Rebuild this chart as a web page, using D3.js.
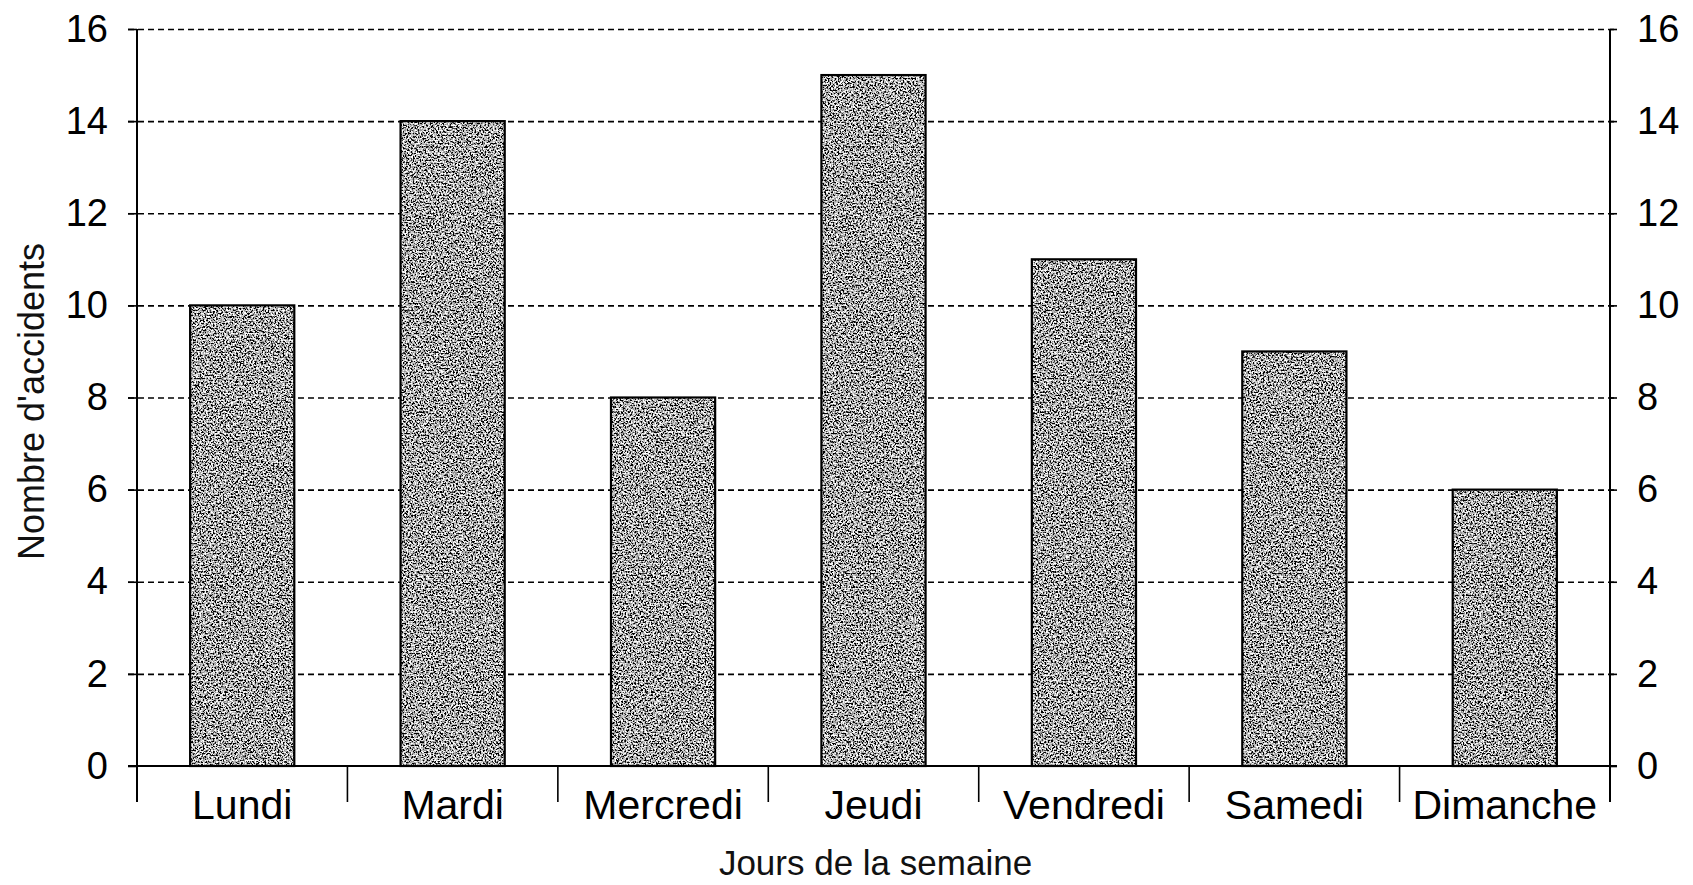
<!DOCTYPE html>
<html>
<head>
<meta charset="utf-8">
<script src="https://cdn.jsdelivr.net/npm/d3@7/dist/d3.min.js"></script>
<style>
  html, body { margin: 0; padding: 0; background: #fff; }
</style>
</head>
<body>
<div id="chart"></div>
<script>
// Data
var days = ['Lundi', 'Mardi', 'Mercredi', 'Jeudi', 'Vendredi', 'Samedi', 'Dimanche'];
var accidents = [10, 14, 8, 15, 11, 9, 6];
var yTicks = [0, 2, 4, 6, 8, 10, 12, 14, 16];
var xTitle = 'Jours de la semaine';
var yTitle = "Nombre d'accidents";

var attrs = {
    svgWidth: 1693,
    svgHeight: 885,
    plotLeft: 137,
    plotRight: 1610,
    plotTop: 29,
    plotBottom: 766,
    catTickLength: 36,
    defaultFont: '"Liberation Sans", Arial, Helvetica, sans-serif',
    textFill: '#000',
    barFill: '#808080'
};

var svg = d3.select('#chart').append('svg')
    .attr('width', attrs.svgWidth)
    .attr('height', attrs.svgHeight)
    .attr('font-family', attrs.defaultFont);

/*##################################   TEXTURE  ####################################### */
// grainy grey like the scanned print
var filter = svg.append('defs').append('filter')
    .attr('id', 'grain')
    .attr('x', 0).attr('y', 0).attr('width', 1).attr('height', 1);

filter.append('feTurbulence')
    .attr('type', 'fractalNoise')
    .attr('baseFrequency', 0.6)
    .attr('numOctaves', 2)
    .attr('seed', 7)
    .attr('result', 'noise');

filter.append('feColorMatrix')
    .attr('in', 'noise')
    .attr('type', 'matrix')
    .attr('values', '2.6 0 0 0 -0.85  2.6 0 0 0 -0.85  2.6 0 0 0 -0.85  0 0 0 0 1')
    .attr('result', 'grey');

var transfer = filter.append('feComponentTransfer').attr('in', 'grey').attr('result', 'speck');
['feFuncR', 'feFuncG', 'feFuncB'].forEach(function (f) {
    transfer.append(f).attr('type', 'discrete').attr('tableValues', '0 0.05 0.3 0.5 0.65 0.92 1');
});

filter.append('feComposite')
    .attr('in', 'speck')
    .attr('in2', 'SourceGraphic')
    .attr('operator', 'in');

/*################################## SCALES ####################################### */
var x = d3.scaleBand()
    .domain(days)
    .range([attrs.plotLeft, attrs.plotRight])
    .paddingInner(0.505)
    .paddingOuter(0.2525);

// category boundaries for the little separator ticks
var boundaries = d3.scaleLinear()
    .domain([0, days.length])
    .range([attrs.plotLeft, attrs.plotRight]);

var y = d3.scaleLinear()
    .domain([0, 16])
    .range([attrs.plotBottom, attrs.plotTop]);

//################################ DRAWING ######################
// dashed grid
svg.append('g')
    .attr('class', 'grid')
    .selectAll('line')
    .data(yTicks.filter(d => d > 0))
    .join('line')
    .attr('x1', attrs.plotLeft - 9)
    .attr('x2', attrs.plotRight + 7)
    .attr('y1', d => y(d) + 0.5)
    .attr('y2', d => y(d) + 0.5)
    .attr('stroke', '#000')
    .attr('stroke-width', 1.6)
    .attr('stroke-dasharray', '6,4');

// bars
var bars = svg.append('g').attr('class', 'bars')
    .selectAll('g')
    .data(days.map((d, i) => ({ day: d, value: accidents[i] })))
    .join('g');

bars.append('rect')
    .attr('x', d => x(d.day))
    .attr('y', d => y(d.value))
    .attr('width', x.bandwidth())
    .attr('height', d => y(0) - y(d.value))
    .attr('fill', attrs.barFill)
    .attr('filter', 'url(#grain)');

bars.append('rect')
    .attr('x', d => x(d.day))
    .attr('y', d => y(d.value))
    .attr('width', x.bandwidth())
    .attr('height', d => y(0) - y(d.value))
    .attr('fill', 'none')
    .attr('stroke', '#000')
    .attr('stroke-width', 2.2);

// left axis
var leftAxis = svg.append('g')
    .attr('transform', 'translate(' + attrs.plotLeft + ',0)')
    .call(d3.axisLeft(y).tickValues(yTicks).tickSize(9).tickSizeOuter(0).tickPadding(20));

// right axis
var rightAxis = svg.append('g')
    .attr('transform', 'translate(' + attrs.plotRight + ',0)')
    .call(d3.axisRight(y).tickValues(yTicks).tickSize(7).tickSizeOuter(0).tickPadding(20));

[leftAxis, rightAxis].forEach(function (ax) {
    ax.select('.domain').remove();
    ax.selectAll('line').attr('stroke', '#000').attr('stroke-width', 1.6);
    ax.selectAll('text')
        .attr('font-size', 38)
        .attr('fill', attrs.textFill)
        .attr('font-family', attrs.defaultFont);
    // axis line runs down past the baseline like the category ticks
    ax.append('line')
        .attr('y1', attrs.plotTop)
        .attr('y2', attrs.plotBottom + attrs.catTickLength)
        .attr('stroke', '#000')
        .attr('stroke-width', 2);
});

// baseline
svg.append('line')
    .attr('x1', attrs.plotLeft - 9)
    .attr('x2', attrs.plotRight + 7)
    .attr('y1', y(0))
    .attr('y2', y(0))
    .attr('stroke', '#000')
    .attr('stroke-width', 2);

// category separator ticks
svg.append('g')
    .selectAll('line')
    .data(d3.range(1, days.length))
    .join('line')
    .attr('x1', d => boundaries(d))
    .attr('x2', d => boundaries(d))
    .attr('y1', y(0))
    .attr('y2', y(0) + attrs.catTickLength)
    .attr('stroke', '#000')
    .attr('stroke-width', 1.6);

// category labels
var bottomAxis = svg.append('g')
    .attr('transform', 'translate(0,' + y(0) + ')')
    .call(d3.axisBottom(x).tickSize(0).tickPadding(24));

bottomAxis.select('.domain').remove();
bottomAxis.selectAll('text')
    .attr('font-size', 41)
    .attr('fill', attrs.textFill)
    .attr('font-family', attrs.defaultFont);

// titles
svg.append('text')
    .attr('x', (attrs.plotLeft + attrs.plotRight) / 2 + 2)
    .attr('y', 875)
    .attr('text-anchor', 'middle')
    .attr('font-size', 35)
    .attr('fill', '#111')
    .text(xTitle);

svg.append('text')
    .attr('transform', 'translate(44,' + ((attrs.plotTop + attrs.plotBottom) / 2 + 4) + ') rotate(-90)')
    .attr('text-anchor', 'middle')
    .attr('font-size', 36)
    .attr('fill', '#111')
    .text(yTitle);
</script>
</body>
</html>
